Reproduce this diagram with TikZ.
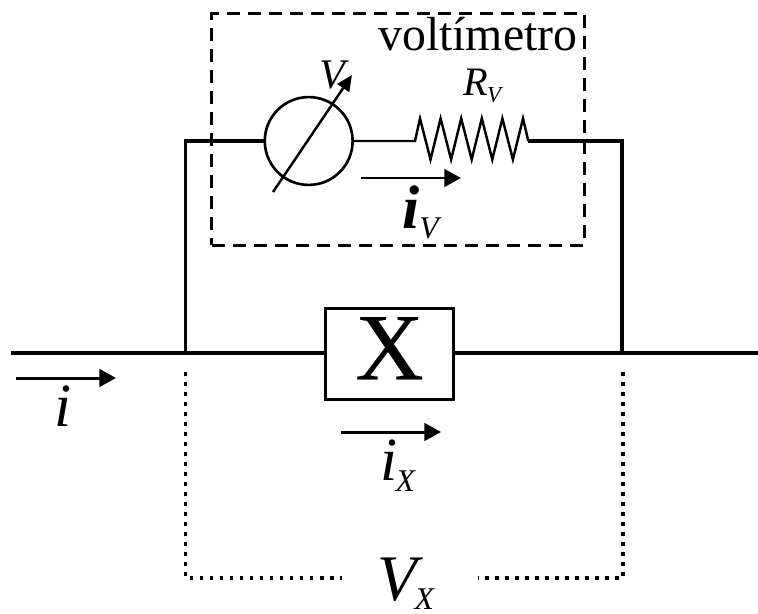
\documentclass[tikz,border=0pt]{standalone}
\usepackage{fontspec}
\setmainfont{Liberation Serif}
\newfontfamily\xfonte[FakeBold=0.25]{Liberation Serif}
\usetikzlibrary{positioning, arrows.meta, calc}

% tamanho da fonte + base
\newcommand{\fs}[1]{\fontsize{#1}{#1}\selectfont}
% letra italica com subscrito: tam, letra, tam sub, descida, ajuste, sub
\newcommand{\comsub}[6]{\fs{#1}\textit{#2}\kern#5\raisebox{#4}{\fs{#3}\textit{#6}}}

\begin{document}
\begin{tikzpicture}[x=0.02cm, y=-0.02cm,
		fio/.style={line width=1.9pt},
		fiogrosso/.style={line width=2.3pt},
		fiofino/.style={line width=1.4pt, line join=miter},
		corrente/.style={line width=1.7pt, -{Triangle[length=9.5pt, width=10pt]}},
		tracos/.style={draw, line width=1.8pt, dash pattern=on 7.4pt off 4.6pt, inner sep=0pt, minimum width=212pt, minimum height=132pt},
		pontos/.style={line width=2pt, dash pattern=on 2pt off 3.7pt},
		rotulo/.style={inner sep=0pt, anchor=base west}]
	
	\useasboundingbox (0,0) rectangle (758,613);
	
	% Nós do diagrama
	\node (volt) [tracos] at (398,129.5) {};
	\node (meter) [draw, circle, line width=1.5pt, inner sep=0pt, outer sep=0pt, minimum size=50pt] at (308.7,141) {};
	\node (X) [draw, rectangle, line width=1.5pt, inner sep=0pt, outer sep=0pt, minimum width=73pt, minimum height=52pt] at (389.5,354) {\smash{\raisebox{-14.4pt}{\fs{54pt}\xfonte X}}};
	
	% Nós de entrada e saída
	\coordinate (in) at (11,353);
	\coordinate (out) at (758,353);
	\coordinate (jl) at (185.5,353);
	\coordinate (jr) at (622,353);
	\coordinate (rs) at (415,141);
	\coordinate (re) at (528.3,141);
	
	% Rótulos
	\node (voltlab) [rotulo, font=\fs{27.2pt}] at (378,50) {voltímetro};
	\node (Vlab) [rotulo] at (319,88) {\fs{24pt}\textit{V}};
	\node (Rlab) [rotulo] at (463,95) {\comsub{23pt}{R}{13pt}{-4.5pt}{-0.5pt}{V}};
	\node (iVlab) [rotulo] at (402,228) {\fs{35pt}\textbf{\textit{i}}\raisebox{-6.2pt}{\fs{18pt}\textit{V}}};
	\node (ilab) [rotulo] at (54,426) {\fs{35pt}\textit{i}};
	\node (iXlab) [rotulo] at (380,480) {\comsub{35pt}{i}{18pt}{-6.8pt}{-1pt}{X}};
	\node (VXlab) [rotulo] at (377,600) {\comsub{37pt}{V}{18pt}{-5.6pt}{-5pt}{X}};
	
	% Conexões
	\draw[fiogrosso] (in) -- (X.west |- in);
	\draw[fiogrosso] (X.east |- out) -- (out);
	\draw[fio] (jl) |- (meter);
	\draw[fio] (jr) |- (re);
	\draw[fiofino] (meter) -- (rs) -- ++(5,-22.5)
		\foreach \k in {1,...,5} { -- ++(10.5,41) -- ++(10.1,-41)} -- (re);
	\draw[fiofino, -{Triangle[length=9pt, width=8pt]}] (273,192) -- (352,75);
	
	% Correntes
	\coordinate (iVa) at (361,178);
	\coordinate (iVb) at (461,178);
	\coordinate (ia) at (16,378);
	\coordinate (ib) at (116,378);
	\coordinate (iXa) at (341,432);
	\coordinate (iXb) at (441,432);
	\draw[corrente] (iVa) -- (iVb);
	\draw[corrente] (ia) -- (ib);
	\draw[corrente] (iXa) -- (iXb);
	
	% Tensão em X
	\coordinate (dl) at (185.5,372);
	\coordinate (dr) at (623,372);
	\coordinate (el) at (342,578);
	\coordinate (er) at (478,578);
	\draw[pontos] (dl) |- (el);
	\draw[pontos] (dr) |- (er);
	
\end{tikzpicture}
\end{document}
